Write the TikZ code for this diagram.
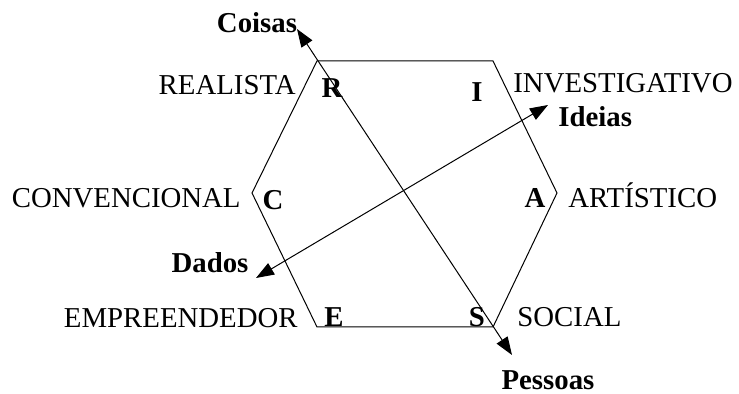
\documentclass[tikz,border=0pt]{standalone}
\usepackage{fontspec}
\setmainfont{Liberation Serif}
\usetikzlibrary{arrows.meta}

\tikzset{
  typelabel/.style={font=\fontsize{14.4}{17}\selectfont, inner sep=0pt},
  codeletter/.style={font=\fontsize{14.4}{17}\selectfont\bfseries, inner sep=0pt, anchor=base},
  axislabel/.style={font=\fontsize{14.4}{17}\selectfont\bfseries, inner sep=0pt},
  axisarrow/.style={line width=0.5pt, {Triangle[length=9pt,width=6.5pt]}-{Triangle[length=9pt,width=6.5pt]}}
}

\begin{document}
\begin{tikzpicture}[x=0.5pt, y=-0.5pt]
  \useasboundingbox (0,0) rectangle (739,394);

  % hexagon corners
  \coordinate (hR) at (317,61);
  \coordinate (hI) at (493,61);
  \coordinate (hA) at (557,193);
  \coordinate (hS) at (493,327);
  \coordinate (hE) at (317,327);
  \coordinate (hC) at (252,193);
  \draw[line width=0.5pt] (hR) -- (hI) -- (hA) -- (hS) -- (hE) -- (hC) -- cycle;

  % axes
  \coordinate (coisasTip) at (297,29);
  \coordinate (pessoasTip) at (512,355);
  \coordinate (dadosTip) at (256,278);
  \coordinate (ideiasTip) at (548,105);
  \draw[axisarrow] (coisasTip) -- (pessoasTip);
  \draw[axisarrow] (dadosTip) -- (ideiasTip);

  % type names
  \node[typelabel,anchor=base east] (realista) at (296,95) {REALISTA};
  \node[typelabel,anchor=base west] (investigativo) at (513,93) {INVESTIGATIVO};
  \node[typelabel,anchor=base west] (artistico) at (568,208) {ARTÍSTICO};
  \node[typelabel,anchor=base east] (convencional) at (241,208) {CONVENCIONAL};
  \node[typelabel,anchor=base east] (empreendedor) at (298,328) {EMPREENDEDOR};
  \node[typelabel,anchor=base west] (social) at (517,327) {SOCIAL};

  % letters inside the hexagon
  \node[codeletter] (letR) at (332,98) {R};
  \node[codeletter] (letI) at (477,102) {I};
  \node[codeletter] (letA) at (535,208) {A};
  \node[codeletter] (letC) at (273,210) {C};
  \node[codeletter] (letE) at (334,327) {E};
  \node[codeletter] (letS) at (477,327) {S};

  % axis ends
  \node[axislabel,anchor=base] (coisas) at (257,33) {Coisas};
  \node[axislabel,anchor=base] (pessoas) at (548,390) {Pessoas};
  \node[axislabel,anchor=base] (dados) at (210,273) {Dados};
  \node[axislabel,anchor=base west] (ideias) at (558,127) {Ideias};
\end{tikzpicture}
\end{document}
